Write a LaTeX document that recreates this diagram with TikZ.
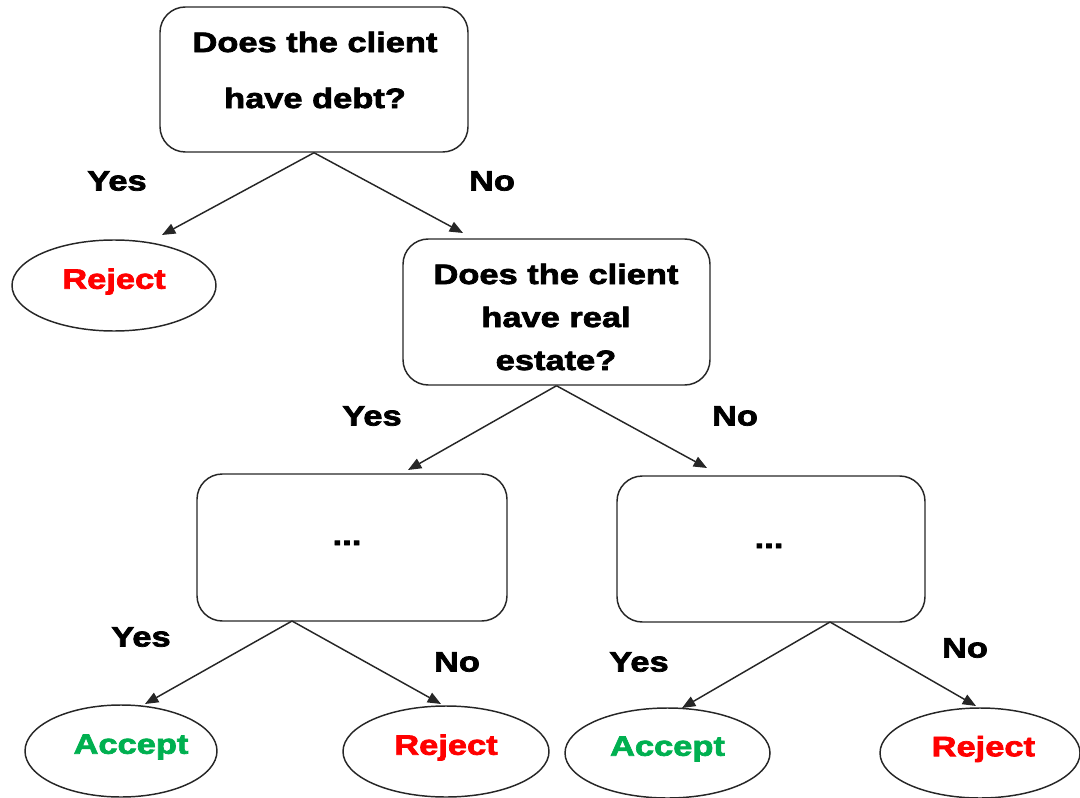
\documentclass[tikz,border=0pt]{standalone}
\usepackage{fontspec}
\usetikzlibrary{shapes.geometric,arrows.meta,calc}
\newfontfamily\arb{Liberation Sans Bold}[FakeStretch=1.23,FakeBold=2.6]
\definecolor{rejred}{RGB}{255,0,0}
\definecolor{accgreen}{RGB}{0,176,80}
\newcommand{\lift}[1]{\raisebox{3pt}[\height][\depth]{#1}}
\tikzset{
  qbox/.style={draw=black!85, line width=1.1pt, rounded corners=19pt, inner sep=0pt},
  leaf/.style={draw=black!85, ellipse, line width=1.1pt, inner sep=0pt, font=\arb\fontsize{21pt}{25pt}\selectfont},
  txt/.style={font=\arb\fontsize{21pt}{25pt}\selectfont, inner sep=0pt, align=center},
  arr/.style={draw=black!85, line width=1.1pt, -{Triangle[length=10pt,width=8pt]}},
}
\begin{document}
\begin{tikzpicture}[x=0.75pt,y=-0.75pt]
\useasboundingbox (0,0) rectangle (1080,798);
% boxes
\node[qbox, minimum width=231pt, minimum height=108.75pt] (b1) at (314,79.5) {};
\node[qbox, minimum width=230.25pt, minimum height=109.5pt] (b2) at (556.5,312) {};
\node[qbox, minimum width=232.5pt, minimum height=110.25pt] (b3) at (352,547.5) {};
\node[qbox, minimum width=231pt, minimum height=109.5pt] (b4) at (771,549) {};
% box texts
\node[txt, font=\arb\fontsize{21pt}{42pt}\selectfont] (t1) at (315,70) {Does the client\\have debt?};
\node[txt, font=\arb\fontsize{21pt}{32.25pt}\selectfont] (t2) at (556,317) {Does the client\\have real\\estate?};
\node[txt, anchor=base] (t3) at (347,545) {...};
\node[txt, anchor=base] (t4) at (769,548) {...};
% leaves
\node[leaf, minimum width=153pt, minimum height=68.25pt, text=rejred] (r1) at (114,285.5) {\lift{Reject}};
\node[leaf, minimum width=144pt, minimum height=69pt, text=accgreen] (a1) at (121,751) {\hspace*{15pt}\lift{Accept}};
\node[leaf, minimum width=154.5pt, minimum height=68.25pt, text=rejred] (r2) at (446,751.5) {\lift{Reject}};
\node[leaf, minimum width=153.75pt, minimum height=67.5pt, text=accgreen] (a2) at (667.5,753) {\lift{Accept}};
\node[leaf, minimum width=150pt, minimum height=67.5pt, text=rejred] (r3) at (980,753) {\hspace*{5pt}\lift{Reject}};
% arrow tips
\coordinate (e1) at (162,235);
\coordinate (e2) at (463,233);
\coordinate (e3) at (408,470);
\coordinate (e4) at (707,468);
\coordinate (s3) at (292,621);
\coordinate (e5) at (145,704);
\coordinate (e6) at (441,704);
\coordinate (s4) at (830,622);
\coordinate (e7) at (682,708);
\coordinate (e8) at (976,706);
\draw[arr] (b1.south) -- (e1);
\draw[arr] (b1.south) -- (e2);
\draw[arr] (b2.south) -- (e3);
\draw[arr] (b2.south) -- (e4);
\draw[arr] (s3) -- (e5);
\draw[arr] (s3) -- (e6);
\draw[arr] (s4) -- (e7);
\draw[arr] (s4) -- (e8);
% labels
\node[txt] (l1) at (117,181) {Yes};
\node[txt] (l2) at (492,181) {No};
\node[txt] (l3) at (372,416) {Yes};
\node[txt] (l4) at (735,416) {No};
\node[txt] (l5) at (141,637) {Yes};
\node[txt] (l6) at (457,662) {No};
\node[txt] (l7) at (639,662) {Yes};
\node[txt] (l8) at (965,648) {No};
\end{tikzpicture}
\end{document}
